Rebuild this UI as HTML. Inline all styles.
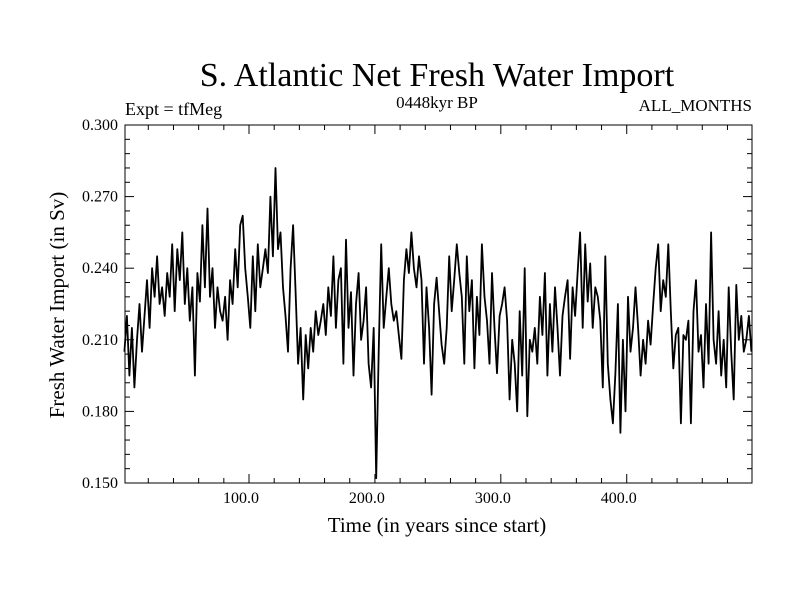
<!DOCTYPE html>
<html><head><meta charset="utf-8"><style>
html,body{margin:0;padding:0;background:#fff;}
svg{display:block;font-family:"Liberation Serif",serif;}
</style></head><body>
<svg id="chart" width="800" height="600" viewBox="0 0 800 600" xmlns="http://www.w3.org/2000/svg">
<rect width="800" height="600" fill="#fff"/>
<text x="437" y="86" font-size="34" text-anchor="middle">S. Atlantic Net Fresh Water Import</text>
<text x="125" y="115" font-size="18">Expt = tfMeg</text>
<text x="437" y="108" font-size="17" text-anchor="middle">0448kyr BP</text>
<text x="752" y="111" font-size="17" text-anchor="end">ALL_MONTHS</text>
<text x="437" y="532" font-size="21" text-anchor="middle">Time (in years since start)</text>
<text x="0" y="0" font-size="21" text-anchor="middle" transform="translate(64,305) rotate(-90)">Fresh Water Import (in Sv)</text>
<g id="ticks"></g>
<path id="series" fill="none" stroke="#000" stroke-width="1.8" stroke-linejoin="round"/>
<rect x="125" y="125" width="627" height="358" fill="none" stroke="#000" stroke-width="1"/>
</svg>
<script>
const yTickValues=[0.150,0.180,0.210,0.240,0.270,0.300];
const yTickLabels=["0.150","0.180","0.210","0.240","0.270","0.300"];
const xTickValues=[100,200,300,400];
const xTickLabels=["100.0","200.0","300.0","400.0"];
const values=[
0.205,0.22,0.195,0.215,0.19,0.21,0.225,0.205,0.22,0.235,0.215,0.24,0.228,0.245,0.225,0.232,0.22,0.238,0.228,0.25,0.222,0.248,0.235,0.255,0.225,
0.24,0.218,0.232,0.195,0.238,0.226,0.258,0.232,0.265,0.228,0.24,0.215,0.232,0.222,0.218,0.228,0.21,0.235,0.225,0.248,0.232,0.258,0.262,0.24,0.228,
0.215,0.245,0.222,0.25,0.232,0.24,0.248,0.238,0.27,0.245,0.282,0.248,0.255,0.232,0.22,0.205,0.24,0.258,0.23,0.2,0.215,0.185,0.212,0.198,0.215,
0.205,0.222,0.212,0.218,0.225,0.212,0.232,0.22,0.245,0.215,0.235,0.24,0.2,0.252,0.215,0.23,0.195,0.225,0.238,0.21,0.218,0.232,0.2,0.19,0.215,
0.152,0.205,0.25,0.215,0.228,0.24,0.225,0.218,0.222,0.212,0.202,0.235,0.248,0.238,0.255,0.24,0.232,0.245,0.235,0.2,0.232,0.215,0.187,0.225,0.236,
0.222,0.208,0.2,0.215,0.245,0.222,0.235,0.25,0.238,0.228,0.2,0.245,0.222,0.235,0.198,0.228,0.212,0.25,0.228,0.218,0.2,0.238,0.215,0.196,0.22,
0.225,0.232,0.218,0.185,0.21,0.2,0.18,0.222,0.195,0.24,0.178,0.21,0.205,0.215,0.2,0.228,0.212,0.238,0.195,0.225,0.205,0.232,0.215,0.195,0.22,
0.228,0.235,0.202,0.232,0.22,0.238,0.255,0.215,0.25,0.226,0.242,0.215,0.232,0.228,0.218,0.19,0.245,0.2,0.185,0.175,0.196,0.225,0.171,0.21,0.18,
0.228,0.205,0.215,0.232,0.215,0.195,0.21,0.2,0.218,0.208,0.225,0.24,0.25,0.222,0.235,0.228,0.25,0.222,0.198,0.212,0.215,0.175,0.212,0.21,0.218,
0.175,0.222,0.235,0.205,0.212,0.19,0.225,0.2,0.255,0.21,0.2,0.222,0.195,0.21,0.19,0.232,0.205,0.185,0.233,0.21,0.22,0.205,0.21,0.22,0.205];
const years=values.map((v,i)=>1+2*i);
const X0=125,X1=752,Y0=483,Y1=125,XMIN=1.5,XMAX=499.5,YMIN=0.15,YMAX=0.30;
function xs(t){return X0+(t-XMIN)/(XMAX-XMIN)*(X1-X0);}
function ys(v){return Y0-(v-YMIN)/(YMAX-YMIN)*(Y0-Y1);}
const NS="http://www.w3.org/2000/svg";
const g=document.getElementById('ticks');
function line(x1,y1,x2,y2){const l=document.createElementNS(NS,'line');l.setAttribute('x1',x1);l.setAttribute('y1',y1);l.setAttribute('x2',x2);l.setAttribute('y2',y2);l.setAttribute('stroke','#000');l.setAttribute('stroke-width','1');


g.appendChild(l);}
function text(x,y,s,anchor){const t=document.createElementNS(NS,'text');t.setAttribute('x',x);t.setAttribute('y',y);t.setAttribute('font-size','16');t.setAttribute('text-anchor',anchor);t.textContent=s;


g.appendChild(t);}
for(let t=20;t<XMAX;t+=20){const x=xs(t);const L=(t%100===0)?9:5;line(x,Y0,x,Y0-L);line(x,Y1,x,Y1+L);}
xTickValues.forEach((t,i)=>text(xs(t)-8,503,xTickLabels[i],'middle'));
for(let k=0;k<=25;k++){const v=YMIN+k*0.006;const y=ys(v);const L=(k%5===0)?9:5;line(X0,y,X0+L,y);line(X1,y,X1-L,y);}
yTickValues.forEach((v,i)=>text(118,ys(v)+5,yTickLabels[i],'end'));
let d='';values.forEach((v,i)=>{d+=(i?'L':'M')+xs(years[i]).toFixed(1)+' '+ys(v).toFixed(1);});
document.getElementById('series').setAttribute('d',d);
</script>
</body></html>
